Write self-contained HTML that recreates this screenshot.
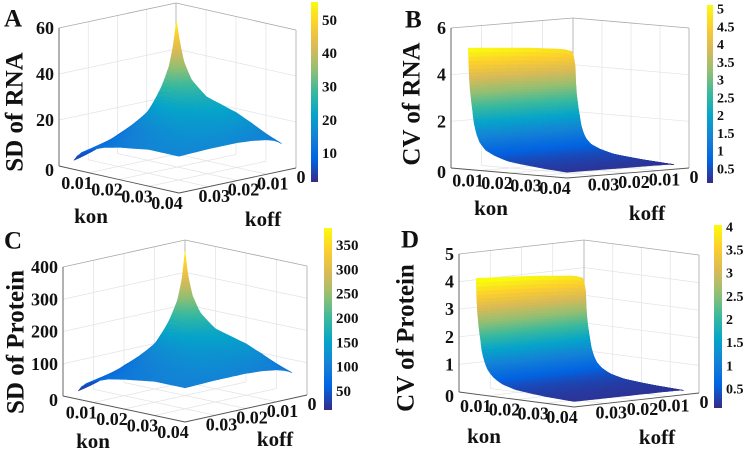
<!DOCTYPE html>
<html><head><meta charset="utf-8">
<style>
html,body{margin:0;padding:0;background:#fff;}
svg{display:block;font-family:"Liberation Serif",serif;font-weight:bold;}
</style></head>
<body>
<svg id="fig" width="748" height="450" viewBox="0 0 748 450"></svg>
<script>
// ---------- data ----------
const konA = [0.005,0.006,0.0075,0.01,0.015,0.02,0.025,0.03,0.04];
const koffA = [0.005,0.006,0.0075,0.01,0.015,0.02,0.025,0.03,0.04];
const sdRNA = [
 [55,45,36,28,18,14,11,8,4],
 [47,42,35,28,19.5,15,12,9.5,6],
 [38,36,33,28,21,16.5,13.5,11,8],
 [31,30,29,27,22,18,15,13,10],
 [25,25,25,24,22,19.5,17,15,12.5],
 [23,23,23,22.5,21,20,18,16.5,14],
 [21,21,21,21,20,19.5,18.5,17,15],
 [18,18.5,19,19,19,19,18.5,17.5,16],
 [12,13,14,15,16,16.5,16.5,16.5,16]];
const sdProtein = [
 [385,300,238,185,119,92,73,53,26],
 [310,277,231,185,129,99,79,63,40],
 [251,238,218,185,139,109,89,73,53],
 [205,198,191,178,145,119,99,86,66],
 [165,165,165,158,145,129,112,99,83],
 [152,152,152,149,139,132,119,109,92],
 [139,139,139,139,132,129,122,112,99],
 [119,122,125,125,125,125,122,116,106],
 [80,86,92,99,106,109,109,109,106]];
const konB = [0.006,0.0062,0.0065,0.007,0.0075,0.008,0.009,0.01,0.012,0.015,0.02,0.03,0.04];
const koffB = [0.005,0.0055,0.006,0.008,0.01,0.02,0.03,0.04];
const cvRNAprofile = [5.2,4.3,3.6,3.0,2.5,2.0,1.5,1.2,0.9,0.7,0.5,0.35,0.25];
const cvProteinProfile = [4.2,3.45,2.9,2.4,2.0,1.6,1.2,0.95,0.7,0.5,0.35,0.25,0.2];
const koffFactor = [0.78,0.86,0.9,0.92,0.93,0.96,0.98,1];
const konTicks = [0.01,0.02,0.03,0.04];
const konTickLabels = ["0.01","0.02","0.03","0.04"];
const koffTicks = [0,0.01,0.02,0.03];
const koffTickLabels = ["0","0.01","0.02","0.03"];
const zTicksA = [0,20,40,60];
const zTicksB = [0,2,4,6];
const zTicksC = [0,100,200,300,400];
const zTicksD = [0,1,2,3,4,5];
const cbTicksA = [10,20,30,40,50];
const cbTicksB = [0.5,1,1.5,2,2.5,3,3.5,4,4.5,5];
const cbTicksC = [50,100,150,200,250,300,350];
const cbTicksD = [0.5,1,1.5,2,2.5,3,3.5,4];
const cRangeA = [1.6,55.7], cRangeB = [0.135,5.14], cRangeC = [13,387], cRangeD = [0.11,4.06];

function outer(p,f){return p.map(v=>f.map(w=>v*w));}
const cvRNA = outer(cvRNAprofile,koffFactor);
const cvProtein = outer(cvProteinProfile,koffFactor);

// ---------- layout ----------
const NS="http://www.w3.org/2000/svg";
const svg=document.getElementById('fig');
function mk(tag,attrs,parent){const e=document.createElementNS(NS,tag);for(const k in attrs)e.setAttribute(k,attrs[k]);(parent||svg).appendChild(e);return e;}
const stops=[[53,42,135],[3,99,225],[20,129,214],[6,164,202],[56,185,158],[146,191,115],[217,186,86],[252,206,46],[249,251,14]];
function parula(t){t=Math.max(0,Math.min(1,t));const s=t*8,i=Math.min(7,Math.floor(s)),f=s-i;const a=stops[i],b=stops[i+1];
 return 'rgb('+a.map((v,k)=>Math.round(v+(b[k]-v)*f)).join(',')+')';}
const gd=mk('defs',{});
const lg=mk('linearGradient',{id:'parulaGrad',x1:0,y1:1,x2:0,y2:0},gd);
for(let i=0;i<=16;i++){mk('stop',{offset:(i/16),'stop-color':parula(i/16)},lg);}

function panel(cfg){
 const g=mk('g',{});
 
 
 const L=cfg.L,F=cfg.F,R=cfg.R,B=[L[0]+R[0]-F[0],L[1]+R[1]-F[1]];
 const zs=cfg.zpx/cfg.zmax;
 const P=(kon,koff,z)=>[B[0]+kon/0.04*(R[0]-B[0])+koff/0.04*(L[0]-B[0]), B[1]+kon/0.04*(R[1]-B[1])+koff/0.04*(L[1]-B[1])-z*zs];
 const line=(a,b,col,w,name)=>{const l=mk('line',{x1:a[0],y1:a[1],x2:b[0],y2:b[1],stroke:col,'stroke-width':w},g);
  return l;};
 const grid='#e3e3e3',zmax=cfg.zmax;
 [0.01,0.02,0.03].forEach(k=>{line(P(0,k,0),P(0,k,zmax),grid,0.7,'gridline');line(P(k,0,0),P(k,0,zmax),grid,0.7,'gridline');
  line(P(k,0,0),P(k,0.04,0),grid,0.7,'gridline');line(P(0,k,0),P(0.04,k,0),grid,0.7,'gridline');});
 cfg.zTicks.forEach(z=>{if(z>0&&z<zmax){line(P(0,0,z),P(0,0.04,z),grid,0.7,'gridline');line(P(0,0,z),P(0.04,0,z),grid,0.7,'gridline');}});
 const bc='#a8a8a8';
 line(P(0,0,0),P(0,0,zmax),bc,0.8,'box-edge');
 line(P(0,0.04,zmax),P(0,0,zmax),bc,0.8,'box-edge');
 line(P(0,0,zmax),P(0.04,0,zmax),bc,0.8,'box-edge');
 line(P(0.04,0,0),P(0.04,0,zmax),bc,0.8,'box-edge');
 line(P(0,0.04,0),P(0,0.04,zmax),'#555',0.9,'z-axis');
 line(P(0,0.04,0),P(0.04,0.04,0),'#555',0.9,'kon-axis');
 line(P(0.04,0.04,0),P(0.04,0,0),'#555',0.9,'koff-axis');
 const kon=cfg.kon,koff=cfg.koff,Z=cfg.Z,cells=[],N=5;
 for(let i=0;i<kon.length-1;i++)for(let j=0;j<koff.length-1;j++){
  const l00=Math.log(Z[i][j]),l10=Math.log(Z[i+1][j]),l11=Math.log(Z[i+1][j+1]),l01=Math.log(Z[i][j+1]);
  const zf=(u,v)=>Math.exp(l00*(1-u)*(1-v)+l10*u*(1-v)+l11*u*v+l01*(1-u)*v);
  for(let a=0;a<N;a++)for(let b=0;b<N;b++){
   const u0=a/N,u1=(a+1)/N,v0=b/N,v1=(b+1)/N;
   const k0=kon[i]+(kon[i+1]-kon[i])*u0,k1=kon[i]+(kon[i+1]-kon[i])*u1;
   const f0=koff[j]+(koff[j+1]-koff[j])*v0,f1=koff[j]+(koff[j+1]-koff[j])*v1;
   const z00=zf(u0,v0),z10=zf(u1,v0),z11=zf(u1,v1),z01=zf(u0,v1);
   cells.push({d:k0+k1+f0+f1,pts:[P(k0,f0,z00),P(k1,f0,z10),P(k1,f1,z11),P(k0,f1,z01)],zm:(z00+z10+z11+z01)/4});
  }}
 cells.sort((a,b)=>a.d-b.d);
 const sg=mk('g',{},g);
 
 
 cells.forEach(c=>{
  const col=parula((c.zm-cfg.cr[0])/(cfg.cr[1]-cfg.cr[0]));
  const pg=mk('polygon',{points:c.pts.map(p=>p[0].toFixed(1)+','+p[1].toFixed(1)).join(' '),fill:col,stroke:col,'stroke-width':0.6,'stroke-linejoin':'round'},sg);
  
  
 });
 const txt=(x,y,s,fs,anchor,name)=>{const t=mk('text',{x:x,y:y,'font-size':fs,'text-anchor':anchor,'dominant-baseline':'central',fill:'#111'},g);t.textContent=s;
  return t;};
 cfg.zTicks.forEach(z=>{const p=P(0,0.04,z);txt(p[0]-5,p[1]+(z===0?4:0),String(z),18,'end','z-tick-label');});
 konTicks.forEach((k,n)=>{const p=P(k,0.04,0);txt(p[0]-12,p[1]+10,konTickLabels[n],18,'middle','kon-tick-label');});
 koffTicks.forEach((k,n)=>{const p=P(0.04,k,0);txt(p[0]+(k===0?5:6),p[1]+9,koffTickLabels[n],18,'middle','koff-tick-label');});
 txt(cfg.konT[0],cfg.konT[1],'kon',21,'middle','kon-axis-title');
 txt(cfg.koffT[0],cfg.koffT[1],'koff',21,'middle','koff-axis-title');
 const yt=mk('text',{x:0,y:0,'font-size':25,'text-anchor':'middle','dominant-baseline':'central',fill:'#111',transform:'translate('+cfg.yT[0]+','+cfg.yT[1]+') rotate(-90)','xml:space':'preserve'},g);
 yt.textContent=cfg.ytitle;
 
 
 txt(cfg.letter[0],cfg.letter[1],cfg.letterText,25,'start','panel-label');
 const cb=cfg.cb;
 const r=mk('rect',{x:cb[0],y:cb[1],width:cb[2]-cb[0],height:cb[3]-cb[1],fill:'url(#parulaGrad)'},g);
 
 
 cfg.cbTicks.forEach(v=>{const y=cb[3]-(v-cfg.cr[0])/(cfg.cr[1]-cfg.cr[0])*(cb[3]-cb[1]);
  txt(cb[2]+4,y,String(v),cfg.cbfs,'start','colorbar-tick-label');});
}

panel({name:'panel-a-sd-rna',L:[59,166],F:[179,193],R:[296,168],zmax:60,zpx:138,zTicks:zTicksA,kon:konA,koff:koffA,Z:sdRNA,cr:cRangeA,
 konT:[91,216],koffT:[263,219],yT:[15,112],ytitle:'SD of RNA',letter:[4,19],letterText:'A',cb:[311,2,318,182],cbTicks:cbTicksA,cbfs:15});
panel({name:'panel-b-cv-rna',L:[451,168],F:[567,178],R:[689,168],zmax:6,zpx:140,zTicks:zTicksB,kon:konB,koff:koffB,Z:cvRNA,cr:cRangeB,
 konT:[491,208],koffT:[647,213],yT:[412,104],ytitle:'CV of RNA',letter:[405,20],letterText:'B',cb:[707,5,713,183],cbTicks:cbTicksB,cbfs:14});
panel({name:'panel-c-sd-protein',L:[63,396],F:[185,422],R:[307,395],zmax:400,zpx:129,zTicks:zTicksC,kon:konA,koff:koffA,Z:sdProtein,cr:cRangeC,
 konT:[93,441],koffT:[275,439],yT:[16,342],ytitle:'SD of  Protein',letter:[4,241],letterText:'C',cb:[324,228,332,410],cbTicks:cbTicksC,cbfs:15});
panel({name:'panel-d-cv-protein',L:[459,392],F:[574,407],R:[699,393],zmax:5,zpx:138,zTicks:zTicksD,kon:konB,koff:koffB,Z:cvProtein,cr:cRangeD,
 konT:[484,436],koffT:[657,437],yT:[406,338],ytitle:'CV of  Protein',letter:[401,240],letterText:'D',cb:[714,225,722,408],cbTicks:cbTicksD,cbfs:14});
</script>
</body></html>
